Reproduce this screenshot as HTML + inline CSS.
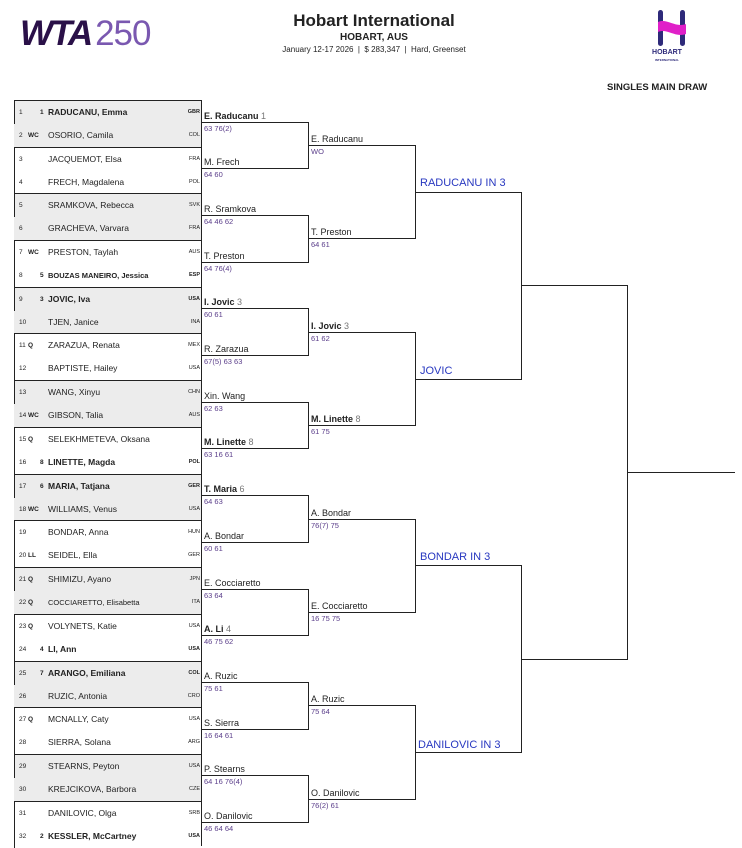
<!DOCTYPE html>
<html><head><meta charset="utf-8"><style>
*{margin:0;padding:0;box-sizing:border-box}
body{width:742px;height:846px;position:relative;background:#fff;font-family:"Liberation Sans",sans-serif;color:#222;overflow:hidden}
.a{position:absolute;white-space:nowrap}
.pr{position:absolute;left:14px;width:187px;height:47px;border-top:1px solid #222;border-left:1px solid #222}
.g{background:#ececec}
.g::after{content:"";position:absolute;left:-1px;top:23px;width:1px;height:24px;background:#ececec}
.row{position:absolute;left:0;width:187px;height:23px;font-size:8.5px;line-height:23px}
.n{position:absolute;left:4px;font-size:6.5px}
.t{position:absolute;left:13px;font-size:6.5px;font-weight:bold}
.s{position:absolute;left:25px;font-size:6.5px;font-weight:bold}
.nm{position:absolute;left:33px}
.c{position:absolute;right:2px;font-size:5.5px}
.b{font-weight:bold}
.w{font-size:9px;height:12px;line-height:12px}
.sc{font-size:7.5px;color:#5a3d8a;line-height:9px}
.sd{color:#777;font-weight:normal}
.q{font-size:11px;color:#2838c0;line-height:12px}
</style></head><body>
<div class="a" style="left:20px;top:14px;font-size:35px;line-height:40px;font-weight:bold;font-style:italic;color:#2a1048;letter-spacing:-2px">WTA<span style="font-style:normal;font-weight:normal;color:#7a58b0;letter-spacing:-1px;margin-left:4px">250</span></div>
<div class="a" style="left:0;width:748px;top:11px;text-align:center;font-size:17px;font-weight:bold;line-height:20px">Hobart International</div>
<div class="a" style="left:0;width:748px;top:32px;text-align:center;font-size:10px;font-weight:bold;line-height:12px">HOBART, AUS</div>
<div class="a" style="left:0;width:748px;top:45px;text-align:center;font-size:8px;line-height:10px">January 12-17 2026 &nbsp;| &nbsp;$ 283,347 &nbsp;| &nbsp;Hard, Greenset</div>
<svg class="a" style="left:655px;top:8px" width="34" height="40" viewBox="0 0 34 40"><rect x="3" y="2" width="5" height="36" rx="2.5" fill="#2e2a7a"/><rect x="25" y="2" width="5" height="36" rx="2.5" fill="#2e2a7a"/><path d="M3 14 C12 10 20 20 31 16 L31 26 C20 30 12 20 3 24Z" fill="#e020c8"/></svg>
<div class="a" style="left:645px;top:49px;width:44px;text-align:center;font-size:7px;font-weight:bold;color:#2e2a7a">HOBART</div>
<div class="a" style="left:645px;top:58px;width:44px;text-align:center;font-size:3px;font-weight:bold;color:#2e2a7a">INTERNATIONAL</div>
<div class="a b" style="left:607px;top:82px;font-size:9.5px">SINGLES MAIN DRAW</div>

<div class="pr g" style="top:100px"><div class="row" style="top:0"><span class="n">1</span><span class="s">1</span><span class="nm b">RADUCANU, Emma</span><span class="c b">GBR</span></div><div class="row" style="top:23px"><span class="n">2</span><span class="t">WC</span><span class="nm">OSORIO, Camila</span><span class="c">COL</span></div></div>
<div class="pr" style="top:147px"><div class="row" style="top:0"><span class="n">3</span><span class="nm">JACQUEMOT, Elsa</span><span class="c">FRA</span></div><div class="row" style="top:23px"><span class="n">4</span><span class="nm">FRECH, Magdalena</span><span class="c">POL</span></div></div>
<div class="pr g" style="top:193px"><div class="row" style="top:0"><span class="n">5</span><span class="nm">SRAMKOVA, Rebecca</span><span class="c">SVK</span></div><div class="row" style="top:23px"><span class="n">6</span><span class="nm">GRACHEVA, Varvara</span><span class="c">FRA</span></div></div>
<div class="pr" style="top:240px"><div class="row" style="top:0"><span class="n">7</span><span class="t">WC</span><span class="nm">PRESTON, Taylah</span><span class="c">AUS</span></div><div class="row" style="top:23px"><span class="n">8</span><span class="s">5</span><span class="nm b" style="font-size:7.5px">BOUZAS MANEIRO, Jessica</span><span class="c b">ESP</span></div></div>
<div class="pr g" style="top:287px"><div class="row" style="top:0"><span class="n">9</span><span class="s">3</span><span class="nm b">JOVIC, Iva</span><span class="c b">USA</span></div><div class="row" style="top:23px"><span class="n">10</span><span class="nm">TJEN, Janice</span><span class="c">INA</span></div></div>
<div class="pr" style="top:333px"><div class="row" style="top:0"><span class="n">11</span><span class="t">Q</span><span class="nm">ZARAZUA, Renata</span><span class="c">MEX</span></div><div class="row" style="top:23px"><span class="n">12</span><span class="nm">BAPTISTE, Hailey</span><span class="c">USA</span></div></div>
<div class="pr g" style="top:380px"><div class="row" style="top:0"><span class="n">13</span><span class="nm">WANG, Xinyu</span><span class="c">CHN</span></div><div class="row" style="top:23px"><span class="n">14</span><span class="t">WC</span><span class="nm">GIBSON, Talia</span><span class="c">AUS</span></div></div>
<div class="pr" style="top:427px"><div class="row" style="top:0"><span class="n">15</span><span class="t">Q</span><span class="nm">SELEKHMETEVA, Oksana</span></div><div class="row" style="top:23px"><span class="n">16</span><span class="s">8</span><span class="nm b">LINETTE, Magda</span><span class="c b">POL</span></div></div>
<div class="pr g" style="top:474px"><div class="row" style="top:0"><span class="n">17</span><span class="s">6</span><span class="nm b">MARIA, Tatjana</span><span class="c b">GER</span></div><div class="row" style="top:23px"><span class="n">18</span><span class="t">WC</span><span class="nm">WILLIAMS, Venus</span><span class="c">USA</span></div></div>
<div class="pr" style="top:520px"><div class="row" style="top:0"><span class="n">19</span><span class="nm">BONDAR, Anna</span><span class="c">HUN</span></div><div class="row" style="top:23px"><span class="n">20</span><span class="t">LL</span><span class="nm">SEIDEL, Ella</span><span class="c">GER</span></div></div>
<div class="pr g" style="top:567px"><div class="row" style="top:0"><span class="n">21</span><span class="t">Q</span><span class="nm">SHIMIZU, Ayano</span><span class="c">JPN</span></div><div class="row" style="top:23px"><span class="n">22</span><span class="t">Q</span><span class="nm" style="font-size:7.5px">COCCIARETTO, Elisabetta</span><span class="c">ITA</span></div></div>
<div class="pr" style="top:614px"><div class="row" style="top:0"><span class="n">23</span><span class="t">Q</span><span class="nm">VOLYNETS, Katie</span><span class="c">USA</span></div><div class="row" style="top:23px"><span class="n">24</span><span class="s">4</span><span class="nm b">LI, Ann</span><span class="c b">USA</span></div></div>
<div class="pr g" style="top:661px"><div class="row" style="top:0"><span class="n">25</span><span class="s">7</span><span class="nm b">ARANGO, Emiliana</span><span class="c b">COL</span></div><div class="row" style="top:23px"><span class="n">26</span><span class="nm">RUZIC, Antonia</span><span class="c">CRO</span></div></div>
<div class="pr" style="top:707px"><div class="row" style="top:0"><span class="n">27</span><span class="t">Q</span><span class="nm">MCNALLY, Caty</span><span class="c">USA</span></div><div class="row" style="top:23px"><span class="n">28</span><span class="nm">SIERRA, Solana</span><span class="c">ARG</span></div></div>
<div class="pr g" style="top:754px"><div class="row" style="top:0"><span class="n">29</span><span class="nm">STEARNS, Peyton</span><span class="c">USA</span></div><div class="row" style="top:23px"><span class="n">30</span><span class="nm">KREJCIKOVA, Barbora</span><span class="c">CZE</span></div></div>
<div class="pr" style="top:801px"><div class="row" style="top:0"><span class="n">31</span><span class="nm">DANILOVIC, Olga</span><span class="c">SRB</span></div><div class="row" style="top:23px"><span class="n">32</span><span class="s">2</span><span class="nm b">KESSLER, McCartney</span><span class="c b">USA</span></div></div>

<svg class="a" style="left:0;top:0" width="742" height="846">
<g stroke="#222" stroke-width="1" fill="none">
<line x1="201.5" y1="100" x2="201.5" y2="846"/>
<path d="M201 122.5H308.5V168.5H201 M201 215.5H308.5V262.5H201 M201 308.5H308.5V355.5H201 M201 402.5H308.5V448.5H201 M201 495.5H308.5V542.5H201 M201 589.5H308.5V635.5H201 M201 682.5H308.5V729.5H201 M201 775.5H308.5V822.5H201"/>
<path d="M308 145.5H415.5V238.5H308 M308 332.5H415.5V425.5H308 M308 519.5H415.5V612.5H308 M308 705.5H415.5V799.5H308"/>
<path d="M415 192.5H521.5V379.5H415 M415 565.5H521.5V752.5H415"/>
<path d="M521 285.5H627.5V659.5H521"/>
<path d="M627 472.5H735"/>
</g></svg>

<div class="a w b" style="left:204px;top:110px">E. Raducanu <span class="sd">1</span></div><div class="a sc" style="left:204px;top:124px">63 76(2)</div>
<div class="a w" style="left:204px;top:156px">M. Frech</div><div class="a sc" style="left:204px;top:170px">64 60</div>
<div class="a w" style="left:204px;top:203px">R. Sramkova</div><div class="a sc" style="left:204px;top:217px">64 46 62</div>
<div class="a w" style="left:204px;top:250px">T. Preston</div><div class="a sc" style="left:204px;top:264px">64 76(4)</div>
<div class="a w b" style="left:204px;top:296px">I. Jovic <span class="sd">3</span></div><div class="a sc" style="left:204px;top:310px">60 61</div>
<div class="a w" style="left:204px;top:343px">R. Zarazua</div><div class="a sc" style="left:204px;top:357px">67(5) 63 63</div>
<div class="a w" style="left:204px;top:390px">Xin. Wang</div><div class="a sc" style="left:204px;top:404px">62 63</div>
<div class="a w b" style="left:204px;top:436px">M. Linette <span class="sd">8</span></div><div class="a sc" style="left:204px;top:450px">63 16 61</div>
<div class="a w b" style="left:204px;top:483px">T. Maria <span class="sd">6</span></div><div class="a sc" style="left:204px;top:497px">64 63</div>
<div class="a w" style="left:204px;top:530px">A. Bondar</div><div class="a sc" style="left:204px;top:544px">60 61</div>
<div class="a w" style="left:204px;top:577px">E. Cocciaretto</div><div class="a sc" style="left:204px;top:591px">63 64</div>
<div class="a w b" style="left:204px;top:623px">A. Li <span class="sd">4</span></div><div class="a sc" style="left:204px;top:637px">46 75 62</div>
<div class="a w" style="left:204px;top:670px">A. Ruzic</div><div class="a sc" style="left:204px;top:684px">75 61</div>
<div class="a w" style="left:204px;top:717px">S. Sierra</div><div class="a sc" style="left:204px;top:731px">16 64 61</div>
<div class="a w" style="left:204px;top:763px">P. Stearns</div><div class="a sc" style="left:204px;top:777px">64 16 76(4)</div>
<div class="a w" style="left:204px;top:810px">O. Danilovic</div><div class="a sc" style="left:204px;top:824px">46 64 64</div>

<div class="a w" style="left:311px;top:133px">E. Raducanu</div><div class="a sc" style="left:311px;top:147px">WO</div>
<div class="a w" style="left:311px;top:226px">T. Preston</div><div class="a sc" style="left:311px;top:240px">64 61</div>
<div class="a w b" style="left:311px;top:320px">I. Jovic <span class="sd">3</span></div><div class="a sc" style="left:311px;top:334px">61 62</div>
<div class="a w b" style="left:311px;top:413px">M. Linette <span class="sd">8</span></div><div class="a sc" style="left:311px;top:427px">61 75</div>
<div class="a w" style="left:311px;top:507px">A. Bondar</div><div class="a sc" style="left:311px;top:521px">76(7) 75</div>
<div class="a w" style="left:311px;top:600px">E. Cocciaretto</div><div class="a sc" style="left:311px;top:614px">16 75 75</div>
<div class="a w" style="left:311px;top:693px">A. Ruzic</div><div class="a sc" style="left:311px;top:707px">75 64</div>
<div class="a w" style="left:311px;top:787px">O. Danilovic</div><div class="a sc" style="left:311px;top:801px">76(2) 61</div>

<div class="a q" style="left:420px;top:177px">RADUCANU IN 3</div>
<div class="a q" style="left:420px;top:365px">JOVIC</div>
<div class="a q" style="left:420px;top:551px">BONDAR IN 3</div>
<div class="a q" style="left:418px;top:739px">DANILOVIC IN 3</div>
</body></html>
